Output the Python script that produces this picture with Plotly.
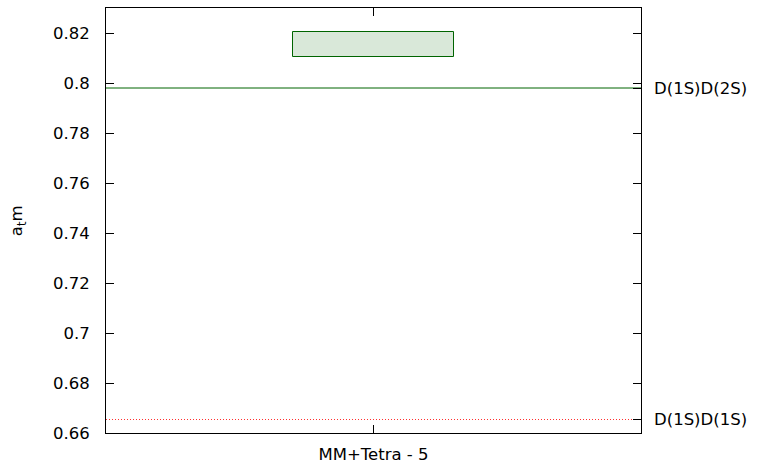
import plotly.graph_objects as go

# Data
categories = ["MM+Tetra - 5"]
box_low = [0.8104]
box_high = [0.8206]

threshold_names = ["D(1S)D(2S)", "D(1S)D(1S)"]
threshold_values = [0.798, 0.6654]
threshold_colors = ["#006400", "#ff3030"]
threshold_dash = ["solid", "1px,2px"]

y_ticks = [0.66, 0.68, 0.70, 0.72, 0.74, 0.76, 0.78, 0.80, 0.82]
y_ticktext = ["0.66", "0.68", "0.7", "0.72", "0.74", "0.76", "0.78", "0.8", "0.82"]
y_range = [0.66, 0.83]
x_span = [-1, 1]

FONT = dict(family="DejaVu Sans", size=16.5, color="black")

fig = go.Figure()

# Energy band drawn as a floating bar
fig.add_trace(go.Bar(
    x=categories,
    y=[h - l for h, l in zip(box_high, box_low)],
    base=box_low,
    width=0.6,
    marker=dict(color="rgba(0,100,0,0.15)", line=dict(color="#006400", width=1)),
    showlegend=False,
    hoverinfo="skip",
))

# Non-interacting thresholds, drawn across the full width on a hidden numeric x axis;
# they also carry the right-hand axis that labels them
for name, v, c, d in zip(threshold_names, threshold_values, threshold_colors, threshold_dash):
    fig.add_trace(go.Scatter(x=x_span, y=[v, v], mode="lines", name=name,
                             xaxis="x2", yaxis="y2",
                             line=dict(color=c, width=1, dash=d),
                             showlegend=False, hoverinfo="skip"))

axis_common = dict(showgrid=False, zeroline=False, linecolor="black",
                   linewidth=1, ticks="inside", ticklen=8, tickcolor="black",
                   tickfont=FONT, ticklabelstandoff=12, automargin=False)

fig.update_layout(
    width=758, height=464,
    margin=dict(l=106, r=117, t=8, b=31),
    paper_bgcolor="white", plot_bgcolor="white",
    font=FONT,
    bargap=0,
    xaxis=dict(type="category", range=[-1, 1], mirror="ticks", showline=True,
               **{**axis_common, "ticklabelstandoff": 6}),
    xaxis2=dict(range=x_span, overlaying="x", visible=False),
    yaxis=dict(range=y_range, tickvals=y_ticks, ticktext=y_ticktext,
               mirror="ticks", showline=True, **axis_common),
    yaxis2=dict(range=y_range, overlaying="y", side="right", showline=False,
                tickvals=threshold_values, ticktext=threshold_names,
                **axis_common),
    annotations=[dict(text="a<sub>t</sub>m", xref="paper", yref="paper",
                      x=-0.165, y=0.5, textangle=-90, showarrow=False,
                      xanchor="center", yanchor="middle", font=FONT)],
)

fig.write_html("out.html")
